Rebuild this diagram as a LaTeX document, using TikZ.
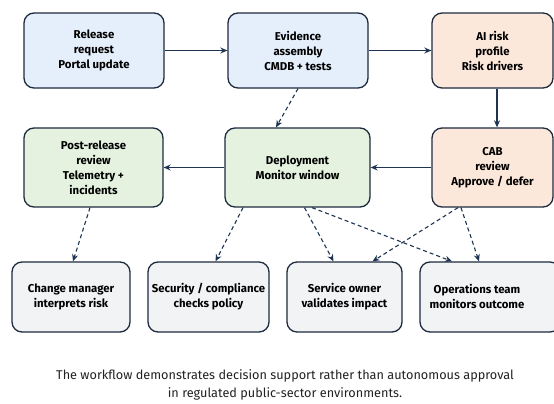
\documentclass[tikz,border=0pt]{standalone}
\usepackage{fontspec}
\setmainfont{Fira Sans}
\usetikzlibrary{arrows.meta,calc}
\definecolor{edgec}{HTML}{1E2B3F}
\definecolor{arrc}{HTML}{1F3452}
\definecolor{bluef}{HTML}{E5EFFB}
\definecolor{greenf}{HTML}{E4F2DF}
\definecolor{orangef}{HTML}{FCE8DA}
\definecolor{grayf}{HTML}{F2F3F5}
\definecolor{capc}{HTML}{222222}
\tikzset{
  box/.style={draw=edgec, line width=1.3pt, rounded corners=10pt, align=center,
    font=\fontsize{11.4}{15}\selectfont\bfseries, text=black, inner sep=0pt},
  solidarr/.style={draw=arrc, line width=1.2pt, -{Stealth[length=7pt,width=6pt]}},
  dasharr/.style={draw=arrc, line width=1.1pt, dashed, dash pattern=on 4pt off 3pt, -{Stealth[length=7pt,width=6pt]}},
}
\begin{document}
\begin{tikzpicture}[x=1pt,y=-1pt]
\path[use as bounding box, fill=white] (0,0) rectangle (554,404);
\begin{scope}
\clip (0,0) rectangle (554,404);
\node[box, fill=bluef, minimum width=140pt, minimum height=75pt] (rel) at (94,50.5) {Release\\request\\Portal update};
\node[box, fill=bluef, minimum width=140pt, minimum height=75pt] (evi) at (298,50.5) {Evidence\\assembly\\CMDB + tests};
\node[box, fill=orangef, minimum width=121pt, minimum height=75pt] (ai) at (492.5,50.5) {AI risk\\profile\\Risk drivers};
\node[box, fill=greenf, minimum width=139pt, minimum height=79pt] (post) at (93.5,167.5) {Post-release\\review\\Telemetry +\\incidents};
\node[box, fill=greenf, minimum width=145pt, minimum height=79pt] (dep) at (297.5,167.5) {Deployment\\Monitor window};
\node[box, fill=orangef, minimum width=121pt, minimum height=79pt] (cab) at (492.5,167.5) {CAB\\review\\Approve / defer};
\node[box, fill=grayf, minimum width=118pt, minimum height=70pt] (chg) at (71,297) {Change manager\\interprets risk};
\node[box, fill=grayf, minimum width=121pt, minimum height=70pt] (sec) at (208.5,297) {Security / compliance\\checks policy};
\node[box, fill=grayf, minimum width=115pt, minimum height=70pt] (svc) at (344.5,297) {Service owner\\validates impact};
\node[box, fill=grayf, minimum width=140pt, minimum height=70pt] (ops) at (490,297) {};
\node[box, draw=none, fill=none] (opslabel) at (477,296) {Operations team\\monitors outcome};
\end{scope}
\draw[solidarr] (rel.east) -- (evi.west);
\draw[solidarr] (evi.east) -- (ai.west);
\draw[solidarr] ([xshift=4.5pt]ai.south) -- ([xshift=4.5pt]cab.north);
\draw[solidarr] (cab.west) -- (dep.east);
\draw[solidarr] (dep.west) -- (post.east);
\draw[dasharr] (evi.south) -- ([xshift=-21.5pt]dep.north);
\draw[dasharr] ([xshift=-3.5pt]post.south) -- ([xshift=2pt]chg.north);
\draw[dasharr] ([xshift=-54.5pt]dep.south) -- ([xshift=7pt]sec.north);
\draw[dasharr] ([xshift=7pt]dep.south) -- ([xshift=-11pt]svc.north);
\draw[dasharr] ([xshift=14.5pt]dep.south) -- ([xshift=-38pt]ops.north);
\draw[dasharr] ([xshift=-34.5pt]cab.south) -- ([xshift=28pt]svc.north);
\draw[dasharr] ([xshift=-31.5pt]cab.south) -- ([xshift=-11pt]ops.north);
\node[align=center, text=capc, font=\fontsize{12.7}{18}\selectfont, inner sep=0pt] (cap) at (285,385) {The workflow demonstrates decision support rather than autonomous approval\\in regulated public-sector environments.};
\end{tikzpicture}
\end{document}
